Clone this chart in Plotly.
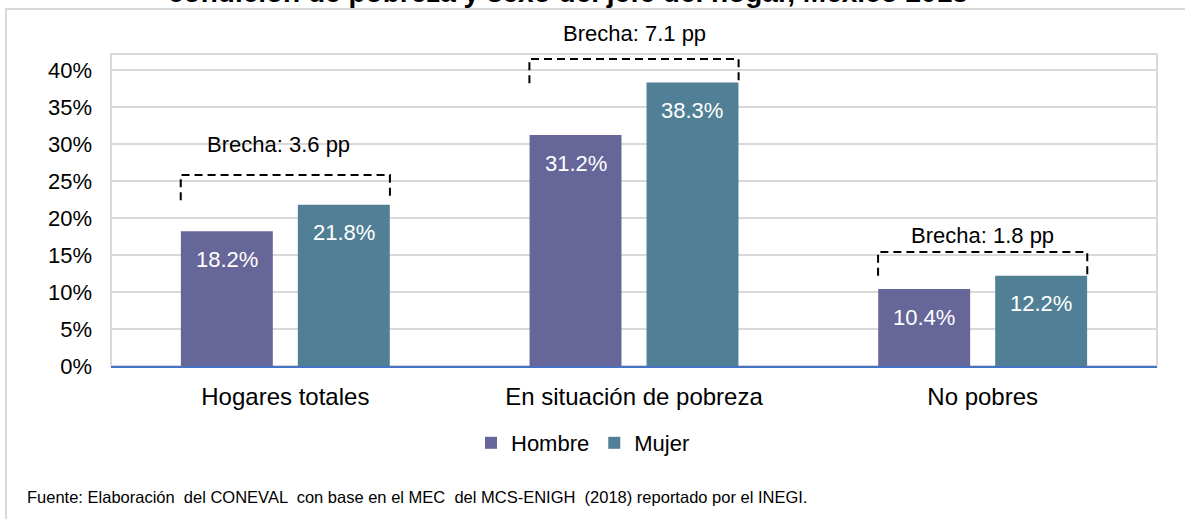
import plotly.graph_objects as go

categories = ["Hogares totales", "En situación de pobreza", "No pobres"]
hombre = [18.2, 31.2, 10.4]
mujer = [21.8, 38.3, 12.2]
brechas = [3.6, 7.1, 1.8]
brecha_label_y = [29.9, 45.0, 17.7]
bracket_top = [25.8, 41.5, 15.4]
bracket_bottom = [22.4, 38.2, 12.2]
y_ticks = [0, 5, 10, 15, 20, 25, 30, 35, 40]

FONT = "Liberation Sans, Arial, sans-serif"
C_H = "#666699"
C_M = "#517F95"
W, H = 1185, 519
L, R, T, B = 111, 28, 54, 153
PW, PH = W - L - R, H - T - B
PX_PER_UNIT = 7.4
Y_MAX = PH / PX_PER_UNIT


def px_x(p):
    return (p - L) / PW


def px_y(p):
    return (H - B - p) / PH


fig = go.Figure()
fig.add_trace(go.Bar(name="Hombre", x=categories, y=hombre, marker_color=C_H,
                     marker_line_width=0, hoverinfo="skip"))
fig.add_trace(go.Bar(name="Mujer", x=categories, y=mujer, marker_color=C_M,
                     marker_line_width=0, hoverinfo="skip"))

slot = PW / 3 * (1 - 0.329) / 2
annotations = []
for i, c in enumerate(categories):
    for v, sh in ((hombre[i], -slot / 2), (mujer[i], slot / 2)):
        annotations.append(dict(x=c, y=v, xref="x", yref="y", text=f"{v:.1f}%",
                                showarrow=False, xshift=sh, yshift=-28,
                                yanchor="middle",
                                font=dict(family=FONT, size=22, color="white")))
    dx = -0.02 if i == 0 else 0
    annotations.append(dict(x=i + dx, y=bracket_top[i], xref="x", yref="y",
                            yshift=(brecha_label_y[i] - bracket_top[i]) * PX_PER_UNIT,
                            text=f"Brecha: {brechas[i]} pp", showarrow=False,
                            yanchor="middle",
                            font=dict(family=FONT, size=22, color="black")))

# title (clipped at top of image)
annotations.append(dict(x=px_x(568), y=px_y(10), xref="paper", yref="paper",
                        text="<b>condición de pobreza y sexo del jefe del hogar, México 2018</b>",
                        showarrow=False, xanchor="center", yanchor="bottom",
                        font=dict(family=FONT, size=28, color="black")))
# source
annotations.append(dict(x=px_x(25), y=px_y(497), xref="paper", yref="paper",
                        text="Fuente: Elaboración  del CONEVAL  con base en el MEC  del MCS-ENIGH  (2018) reportado por el INEGI.",
                        showarrow=False, xanchor="left", yanchor="middle",
                        font=dict(family=FONT, size=16.5, color="black")))

shapes = [
    dict(type="rect", xref="paper", yref="paper", x0=px_x(6), x1=px_x(1195),
         y0=px_y(530), y1=px_y(9), line=dict(color="#d9d9d9", width=2),
         fillcolor="rgba(0,0,0,0)", layer="below"),
    dict(type="rect", xref="paper", yref="paper", x0=0, x1=1, y0=0, y1=1,
         line=dict(color="#d9d9d9", width=2), fillcolor="rgba(0,0,0,0)",
         layer="below"),
]
for i in range(3):
    x0, x1 = i - 0.3, i + 0.3
    shapes.append(dict(type="path", xref="x", yref="y",
                       path=f"M {x0},{bracket_bottom[i]} L {x0},{bracket_top[i]} L {x1},{bracket_top[i]} L {x1},{bracket_bottom[i]}",
                       line=dict(color="black", width=2, dash="8px,5px")))

fig.update_layout(
    width=W, height=H,
    margin=dict(l=L, r=R, t=T, b=B, pad=0),
    paper_bgcolor="white", plot_bgcolor="white",
    barmode="group", bargap=0.329, bargroupgap=0.214,
    font=dict(family=FONT, color="black"),
    showlegend=True,
    legend=dict(orientation="h", x=px_x(583), y=px_y(443), xanchor="center",
                yanchor="middle", font=dict(family=FONT, size=22),
                itemwidth=30, traceorder="normal"),
    annotations=annotations,
    shapes=shapes,
)
fig.update_xaxes(showline=True, linecolor="#4472C4", linewidth=2,
                 tickfont=dict(family=FONT, size=24), ticks="",
                 ticklabelstandoff=8, showgrid=False)
fig.update_yaxes(range=[0, Y_MAX], tickvals=y_ticks,
                 ticktext=[f"{t}%" for t in y_ticks],
                 showgrid=True, gridcolor="#d9d9d9", gridwidth=2,
                 zeroline=False, showline=False, ticks="",
                 ticklabelstandoff=18, tickfont=dict(family=FONT, size=22))

fig.write_html("out.html", config={"displayModeBar": False},
               post_script="document.body.style.margin='0px';document.body.style.overflow='hidden';")
